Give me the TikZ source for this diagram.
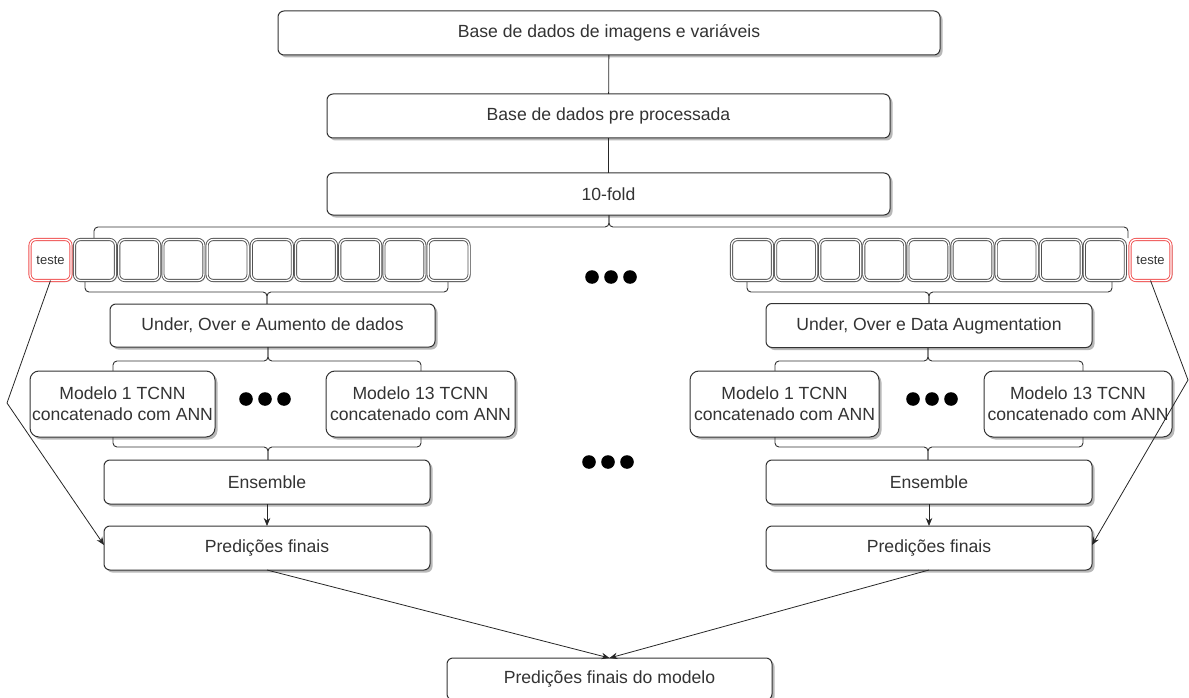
\documentclass[tikz,border=0pt]{standalone}
\usepackage{fontspec}
\setmainfont{Liberation Sans}
\usetikzlibrary{arrows.meta,shadows}

\definecolor{edge}{HTML}{333333}
\definecolor{ink}{HTML}{333333}
\definecolor{testred}{HTML}{F05050}

\tikzset{
  box/.style={draw=edge, line width=1pt, rounded corners=6pt, fill=white,
    text=ink, inner sep=0pt, outer sep=0pt, align=center,
    font=\fontsize{17.6}{21}\selectfont,
    drop shadow={shadow xshift=2.5pt, shadow yshift=-2.5pt, opacity=0.28, fill=black}},
  modelbox/.style={box, rounded corners=9pt, minimum width=188pt, minimum height=66pt},
  widebox/.style={box, minimum width=326pt, minimum height=44pt},
  foldbox/.style={draw=edge!85, double=white, double distance=1.3pt, line width=0.9pt,
    rounded corners=6pt, fill=white, inner sep=0pt, outer sep=0pt,
    minimum width=41pt, minimum height=41pt,
    drop shadow={shadow xshift=1.5pt, shadow yshift=-1.5pt, opacity=0.2, fill=black}},
  testbox/.style={foldbox, draw=testred, text=ink, font=\fontsize{13}{15}\selectfont},
  brace/.style={draw=edge, line width=0.9pt, rounded corners=4pt},
  link/.style={draw=black!85, line width=0.8pt},
  arrow/.style={link, -{Stealth[length=8pt, width=6.5pt]}},
  dot/.style={fill=black}
}

% curly bracket: left x, right x, bar y, end y, tip x, tip y
\newcommand\bracebar[6]{%
  \draw[brace] (#1,#4) -- (#1,#3) -- (#5,#3) -- (#5,#6);
  \draw[brace] (#5,#6) -- (#5,#3) -- (#2,#3) -- (#2,#4);}

% three big dots centred at (x,y)
\newcommand\threedots[2]{%
  \foreach \k in {-1,0,1} \fill[dot] ({#1+19*\k},#2) circle[radius=6.8pt];}

\begin{document}
\begin{tikzpicture}[x=1pt, y=-1pt]
\useasboundingbox (0,0) rectangle (1189,698);

% pipeline head
\node[box, minimum width=662pt, minimum height=44pt] (db) at (609,33) {Base de dados de imagens e variáveis};
\node[box, minimum width=563pt, minimum height=44pt] (pre) at (608.5,116) {Base de dados pre processada};
\node[box, minimum width=563pt, minimum height=42pt] (kfold) at (608.5,194) {10-fold};
\draw[link] (db) -- (pre);
\draw[link] (pre) -- (kfold);

% bracket from the 10-fold box onto both fold rows
\bracebar{94}{1128}{227}{238}{609}{215}

% left fold row
\node[testbox] (ltest) at (50.5,260) {teste};
\foreach \i in {0,...,8}
  \node[foldbox] (lf\i) at ({95+44.2*\i},260) {};

% right fold row
\foreach \i in {0,...,8}
  \node[foldbox] (rf\i) at ({752+44.1*\i},260) {};
\node[testbox] (rtest) at (1150.5,260) {teste};

\threedots{611}{277}

% left branch
\bracebar{85}{448}{292}{282}{267}{304}
\node[widebox, minimum width=325pt, minimum height=43pt] (laug) at (272.5,325.5) {Under, Over e Aumento de dados};
\bracebar{113}{421}{361}{371}{268}{347}
\node[modelbox, minimum width=185pt] (lm1) at (122.5,404) {Modelo 1 TCNN\\concatenado com ANN};
\node[modelbox, minimum width=189pt] (lm13) at (420.5,404) {Modelo 13 TCNN\\concatenado com ANN};
\threedots{265}{399}
\bracebar{113}{421}{447}{437}{268}{460}
\node[widebox] (lens) at (267,482) {Ensemble};
\node[widebox] (lpred) at (267,548) {Predições finais};
\draw[arrow] (lens) -- (lpred);

% right branch
\bracebar{747}{1112}{292}{282}{929}{304}
\node[widebox] (raug) at (929,325.5) {Under, Over e Data Augmentation};
\bracebar{775}{1083}{361}{371}{928}{347}
\node[modelbox, minimum width=189pt] (rm1) at (784.5,404) {Modelo 1 TCNN\\concatenado com ANN};
\node[modelbox] (rm13) at (1078,404) {Modelo 13 TCNN\\concatenado com ANN};
\threedots{932}{399}
\bracebar{775}{1083}{447}{437}{928}{460}
\node[widebox] (rens) at (929,482) {Ensemble};
\node[widebox] (rpred) at (929,548) {Predições finais};
\draw[arrow] (rens) -- (rpred);

\threedots{608}{462}

% test folds feed the final predictions of each branch
\coordinate (lbend) at (7,403);
\coordinate (rbend) at (1188,380);
\draw[arrow] (ltest.south) -- (lbend) -- ([yshift=3pt]lpred.west);
\draw[arrow] (rtest.south) -- (rbend) -- ([yshift=3pt]rpred.east);

% overall result
\node[widebox, minimum width=325pt, minimum height=42pt] (final) at (609.5,679) {Predições finais do modelo};
\draw[arrow] (lpred.south) -- (final.north);
\draw[arrow] (rpred.south) -- (final.north);
\end{tikzpicture}
\end{document}
